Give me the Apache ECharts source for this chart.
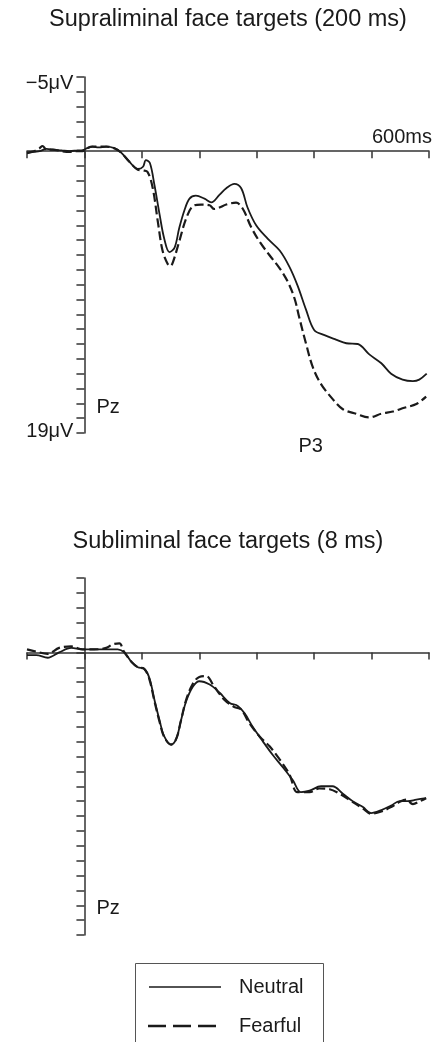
<!DOCTYPE html>
<html>
<head>
<meta charset="utf-8">
<script src="https://cdn.jsdelivr.net/npm/echarts@6/dist/echarts.min.js"></script>
<style>
html,body{margin:0;padding:0;background:#fff;}
#chart{width:438px;height:1042px;}
</style>
</head>
<body>
<div id="chart"></div>
<script>
// ---- data: [time (ms), amplitude (µV)] ----
const supraNeutral = [[-100,0.15],[-88,0.05],[-78,0],[-66,-0.15],[-55,-0.1],[-40,-0.05],[-26,0],[-12,-0.05],[-3,-0.07],[5,-0.2],[14,-0.3],[25,-0.25],[38,-0.3],[52,-0.2],[64,0.1],[78,0.7],[93,1.2],[102,1.05],[107,0.6],[114,0.8],[122,2.3],[131,4.3],[139,5.9],[148,6.8],[157,6.5],[165,5.2],[174,4.0],[183,3.2],[194,3.0],[209,3.2],[221,3.45],[235,2.95],[247,2.5],[261,2.2],[273,2.5],[284,3.8],[299,5.0],[319,5.9],[340,6.7],[357,7.8],[371,9.05],[386,10.7],[400,12.05],[418,12.4],[438,12.7],[456,12.95],[476,13.0],[496,13.7],[517,14.3],[534,15.0],[554,15.4],[572,15.5],[583,15.4],[596,15.0]];
const supraFearful = [[-100,0.1],[-88,0.0],[-78,-0.2],[-73,-0.35],[-66,-0.1],[-55,-0.1],[-40,0],[-26,0.05],[-12,0],[-3,0],[5,-0.2],[14,-0.3],[25,-0.3],[38,-0.3],[52,-0.2],[64,0.1],[78,0.7],[93,1.25],[102,1.3],[110,1.4],[119,2.5],[128,4.8],[136,6.7],[145,7.6],[150,7.75],[154,7.5],[165,6.1],[177,4.55],[189,3.7],[203,3.6],[218,3.65],[226,3.9],[235,3.8],[247,3.6],[264,3.47],[276,3.9],[290,5.1],[305,6.1],[322,7.0],[340,7.9],[354,8.8],[366,9.95],[374,11.2],[386,13.0],[398,14.6],[412,15.7],[432,16.7],[450,17.4],[473,17.7],[496,17.95],[517,17.7],[537,17.55],[557,17.3],[578,17.05],[595,16.55]];
const subNeutral = [[-100,0.18],[-84,0.18],[-64,0.36],[-44,0.0],[-23,-0.3],[-3,-0.2],[17,-0.2],[38,-0.2],[58,-0.2],[70,0.02],[81,0.6],[93,1.0],[104,1.1],[113,1.7],[122,3.2],[131,4.6],[139,5.65],[151,6.2],[160,5.8],[168,4.6],[177,3.3],[189,2.3],[200,1.94],[218,2.16],[235,2.7],[253,3.4],[267,3.6],[279,4.1],[293,5.0],[311,6.0],[328,6.9],[345,7.7],[363,8.6],[377,9.4],[392,9.3],[412,9.0],[432,9.0],[450,9.5],[467,10.0],[485,10.4],[499,10.8],[517,10.6],[534,10.3],[549,10.0],[563,10.0],[578,9.9],[595,9.8]];
const subFearful = [[-100,-0.2],[-84,-0.05],[-64,0.1],[-44,-0.3],[-23,-0.4],[-3,-0.2],[17,-0.2],[38,-0.3],[49,-0.54],[61,-0.6],[68,-0.1],[75,0.3],[81,0.6],[93,1.0],[104,1.1],[113,1.8],[122,3.3],[131,4.7],[139,5.7],[151,6.2],[160,5.8],[168,4.6],[177,3.2],[189,2.1],[200,1.65],[212,1.6],[226,2.3],[244,3.2],[261,3.67],[273,3.85],[287,4.75],[305,5.65],[322,6.3],[340,7.2],[357,8.2],[371,9.4],[392,9.4],[409,9.15],[427,9.2],[444,9.5],[461,9.9],[485,10.5],[499,10.85],[517,10.7],[534,10.4],[549,10.05],[560,9.9],[572,10.2],[584,10.0],[595,9.8]];
const timeRange = [-100, 600];
const voltRange = [-5, 19];
const titles = ['Supraliminal face targets (200 ms)', 'Subliminal face targets (8 ms)'];
const seriesNames = ['Neutral', 'Fearful'];

const FONT = '"Liberation Sans", Arial, Helvetica, sans-serif';
const INK = '#1a1a1a';
const AX = '#333';

const chart = echarts.init(document.getElementById('chart'), null, {renderer:'canvas'});

function xAx(g){return {type:'value', gridIndex:g, min:timeRange[0], max:timeRange[1], interval:100,
  axisLine:{show:true,onZero:true,lineStyle:{color:AX,width:1.5}},
  axisTick:{show:true,inside:false,length:7,lineStyle:{color:AX,width:1.5}},
  axisLabel:{show:false}, splitLine:{show:false}};}
function yAx(g){return {type:'value', gridIndex:g, inverse:true, min:voltRange[0], max:voltRange[1], interval:1,
  axisLine:{show:true,onZero:true,lineStyle:{color:AX,width:1.5}},
  axisTick:{show:true,inside:false,length:8,lineStyle:{color:AX,width:1.5}},
  axisLabel:{show:false}, splitLine:{show:false}};}
const SOLID = {color:INK,width:1.8,type:'solid'};
const DASH = {color:INK,width:2.2,type:[9,4]};
function ser(name,data,g,dashed){return {name:name,type:'line',xAxisIndex:g,yAxisIndex:g,data:data,
  symbol:'none',showSymbol:false,smooth:0.35,animation:false,
  lineStyle:dashed?DASH:SOLID, itemStyle:{color:INK}};}

chart.setOption({
  backgroundColor:'#fff',
  animation:false,
  grid:[{left:27,right:9,top:77,height:356},{left:27,right:9,top:578,height:357}],
  xAxis:[xAx(0),xAx(1)],
  yAxis:[yAx(0),yAx(1)],
  series:[ser(seriesNames[0],supraNeutral,0,false),ser(seriesNames[1],supraFearful,0,true),
          ser(seriesNames[0],subNeutral,1,false),ser(seriesNames[1],subFearful,1,true)]
});

function px(g,t,v){return chart.convertToPixel({gridIndex:g},[t,v]);}
function txt(x,y,s,size,align,valign){return {type:'text',x:x,y:y,silent:true,
  style:{text:s,fill:INK,font:size+'px '+FONT,textAlign:align,textVerticalAlign:valign}};}
const a0 = px(0,0,-5), a19 = px(0,0,19), e600 = px(0,600,0);
const pz0 = px(0,21,17.3), p3 = px(0,394,19.9), pz1 = px(1,21,17.2);
// legend box (drawn as graphic so it matches the boxed, line-only key)
const LG = {x:135, y:963, w:188, h:100};
chart.setOption({graphic:[
  txt(228,20,titles[0],23.5,'center','middle'),
  txt(228,542,titles[1],23.5,'center','middle'),
  txt(a0[0]-11,a0[1]+6,'\u22125\u03bcV',20,'right','middle'),
  txt(a19[0]-11,a19[1]-2,'19\u03bcV',20,'right','middle'),
  txt(e600[0]+3,e600[1]-14,'600ms',20,'right','middle'),
  txt(pz0[0],pz0[1],'Pz',20,'left','middle'),
  txt(p3[0],p3[1],'P3',20,'center','middle'),
  txt(pz1[0],pz1[1],'Pz',20,'left','middle'),
  {type:'rect',silent:true,shape:{x:LG.x+0.5,y:LG.y+0.5,width:LG.w,height:LG.h},style:{fill:'#fff',stroke:'#555',lineWidth:1}},
  {type:'line',silent:true,shape:{x1:LG.x+14,y1:LG.y+24,x2:LG.x+86,y2:LG.y+24},style:{stroke:INK,lineWidth:1.5}},
  {type:'line',silent:true,shape:{x1:LG.x+13,y1:LG.y+63,x2:LG.x+84,y2:LG.y+63},style:{stroke:INK,lineWidth:2.5,lineDash:[18,7]}},
  txt(LG.x+104,LG.y+24,seriesNames[0],20,'left','middle'),
  txt(LG.x+104,LG.y+63,seriesNames[1],20,'left','middle')
]});
</script>
</body>
</html>
